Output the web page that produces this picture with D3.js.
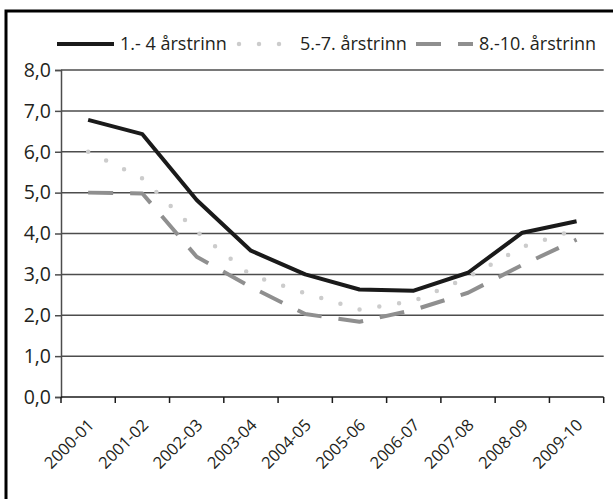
<!DOCTYPE html>
<html><head><meta charset="utf-8">
<script src="https://cdn.jsdelivr.net/npm/d3@7"></script>
<style>body{margin:0;background:#fff}svg{display:block}text{font-family:"Open Sans",sans-serif;fill:#231f20}</style>
</head><body><svg id="c" width="613" height="499"></svg>
<script>
const categories = ["2000-01","2001-02","2002-03","2003-04","2004-05","2005-06","2006-07","2007-08","2008-09","2009-10"];
const seriesNames = ["1.- 4 årstrinn","5.-7. årstrinn","8.-10. årstrinn"];
const s1 = [6.78,6.43,4.82,3.58,3.0,2.63,2.6,3.04,4.02,4.3];
const s2 = [6.0,5.35,4.05,2.98,2.54,2.14,2.35,2.93,3.67,4.1];
const s3 = [5.0,4.98,3.43,2.69,2.03,1.84,2.13,2.55,3.23,3.85];
const yTicks = [0,1,2,3,4,5,6,7,8];

const svg = d3.select("#c");
const L = 61, R = 603.7, T = 70, B = 397;
const x = d3.scaleBand().domain(categories).range([L,R]).padding(0);
const y = d3.scaleLinear().domain([0,8]).range([B,T]);
const fmt = d => d.toFixed(1).replace(".", ",");

// frame
svg.append("path").attr("d", "M6,499 V11 H613").attr("fill","none").attr("stroke","#000").attr("stroke-width",3);

// gridlines
svg.append("g").selectAll("line").data(yTicks.filter(d=>d>0)).join("line")
  .attr("x1",L).attr("x2",R).attr("y1",d=>y(d)).attr("y2",d=>y(d))
  .attr("stroke","#4d4d4d").attr("stroke-width",1.5);

// y axis
const ya = svg.append("g").attr("transform",`translate(${L},0)`)
  .call(d3.axisLeft(y).tickValues(yTicks).tickFormat(fmt).tickSize(6).tickPadding(4));
ya.select(".domain").attr("stroke","#4d4d4d").attr("stroke-width",1.5);
ya.selectAll(".tick line").attr("stroke","#4d4d4d").attr("stroke-width",1.5);
ya.selectAll("text").attr("font-size",19.5).attr("fill","#231f20").style("font-family","'Open Sans',sans-serif");

// x axis
const xa = svg.append("g").attr("transform",`translate(0,${B})`);
xa.append("line").attr("x1",L).attr("x2",R).attr("stroke","#1a1a1a").attr("stroke-width",1.5);
const edges = categories.map(c=>x(c)).concat([R]);
xa.selectAll("line.tk").data(edges).join("line").attr("class","tk")
  .attr("x1",d=>d).attr("x2",d=>d).attr("y1",0).attr("y2",6).attr("stroke","#1a1a1a").attr("stroke-width",1.5);
xa.selectAll("text").data(categories).join("text")
  .attr("text-anchor","end").attr("font-size",16.5)
  .attr("transform",d=>`translate(${x(d)+x.bandwidth()/2+7},${29}) rotate(-45)`)
  .text(d=>d);

const line = d3.line().x((d,i)=>x(categories[i])+x.bandwidth()/2).y(d=>y(d));
const styles = [
  {stroke:"#1a1a1a", width:4, dash:null, cap:"butt"},
  {stroke:"#cccccc", width:4.5, dash:"0 20", cap:"round"},
  {stroke:"#8f8f8f", width:4, dash:"25 17", cap:"butt"}
];
const data = [s1,s2,s3];
[2,1,0].forEach(k=>{
  svg.append("path").datum(data[k]).attr("d",line).attr("fill","none")
    .attr("stroke",styles[k].stroke).attr("stroke-width",styles[k].width)
    .attr("stroke-dasharray",styles[k].dash).attr("stroke-linecap",styles[k].cap)
    .attr("stroke-linejoin","round");
});

// legend
const legX = [57, 237, 416];
const ly = 44;
seriesNames.forEach((n,k)=>{
  const g = svg.append("g");
  g.append("line").attr("x1",legX[k]+ (k==1?2:0)).attr("x2",legX[k]+57).attr("y1",ly).attr("y2",ly)
    .attr("stroke",styles[k].stroke).attr("stroke-width",styles[k].width)
    .attr("stroke-dasharray",styles[k].dash).attr("stroke-linecap",styles[k].cap);
  g.append("text").attr("x",legX[k]+63).attr("y",ly+6).attr("font-size",18).text(n);
});
</script></body></html>
